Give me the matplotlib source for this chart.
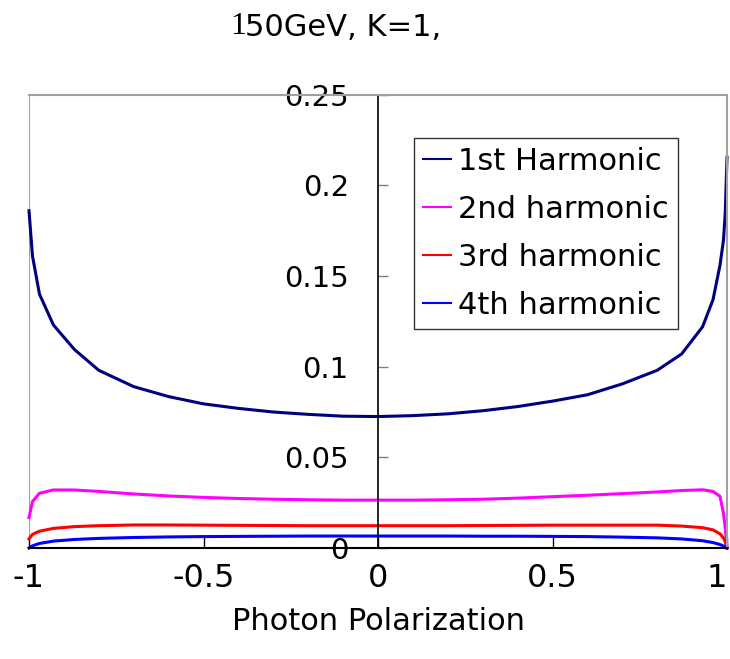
import matplotlib
matplotlib.use('Agg')
import matplotlib.pyplot as plt
from matplotlib.ticker import FixedLocator, FixedFormatter

plt.rcParams['font.family'] = 'DejaVu Sans'
plt.rcParams['axes.unicode_minus'] = False

# photon polarization values
pol = [-1, -0.99, -0.97, -0.93, -0.87, -0.8, -0.7, -0.6, -0.5, -0.4, -0.3, -0.2, -0.1, 0,
       0.1, 0.2, 0.3, 0.4, 0.5, 0.6, 0.7, 0.8, 0.87, 0.93, 0.96, 0.98, 0.99, 0.995, 1]

harm1 = [0.186, 0.161, 0.140, 0.123, 0.1095, 0.098, 0.089, 0.0835, 0.0795, 0.077, 0.075, 0.0737, 0.0727, 0.0725,
         0.073, 0.074, 0.0757, 0.078, 0.081, 0.0845, 0.0905, 0.098, 0.107, 0.122, 0.137, 0.156, 0.170, 0.185, 0.2155]
harm2 = [0.0168, 0.0256, 0.0302, 0.032, 0.032, 0.0312, 0.0298, 0.0287, 0.0279, 0.0273, 0.0269, 0.0266, 0.0264, 0.0264,
         0.0264, 0.0266, 0.0269, 0.0275, 0.0283, 0.0291, 0.0300, 0.0309, 0.0317, 0.0321, 0.0312, 0.0285, 0.019, 0.011, 0.0]
harm3 = [0.005, 0.0075, 0.0093, 0.0108, 0.0118, 0.0123, 0.0127, 0.0127, 0.0126, 0.0125, 0.0124, 0.0123, 0.0123, 0.0123,
         0.0123, 0.0123, 0.0124, 0.0125, 0.0126, 0.0126, 0.0126, 0.0126, 0.0121, 0.0112, 0.0100, 0.0078, 0.0055, 0.0035, 0.0]
harm4 = [0.0, 0.0012, 0.0025, 0.0038, 0.0047, 0.0053, 0.0058, 0.0061, 0.0063, 0.0064, 0.0065, 0.0066, 0.0066, 0.0066,
         0.0066, 0.0066, 0.0065, 0.0065, 0.0064, 0.0063, 0.0060, 0.0056, 0.0050, 0.0040, 0.0030, 0.0019, 0.0011, 0.0006, 0.0]

labels = ['1st Harmonic', '2nd harmonic', '3rd harmonic', '4th harmonic']
colors = ['#000080', '#FF00FF', '#FF0000', '#0000FF']

xticks = [-1, -0.5, 0, 0.5, 1]
xticklabels = ['-1', '-0.5', '0', '0.5', '1']
yticks = [0, 0.05, 0.1, 0.15, 0.2, 0.25]
yticklabels = ['0', '0.05', '0.1', '0.15', '0.2', '0.25']

fig = plt.figure(figsize=(7.3, 6.59), dpi=100)
ax = fig.add_axes([29/730, 1 - 548/659, 698/730, 453.3/659])

for y, lab, c in zip([harm1, harm2, harm3, harm4], labels, colors):
    ax.plot(pol, y, color=c, lw=2.2, label=lab, clip_on=False)

ax.set_xlim(-1, 1)
ax.set_ylim(0, 0.25)

# frame: gray box, black axes through zero
ax.spines['left'].set_position(('data', 0))
ax.spines['left'].set_color('black')
ax.spines['left'].set_linewidth(1.2)
ax.spines['bottom'].set_color('black')
ax.spines['bottom'].set_linewidth(1.5)
for s in ['top', 'right']:
    ax.spines[s].set_color('#a0a0a0')
    ax.spines[s].set_linewidth(1.5)
ax.axvline(-1, color='#a0a0a0', lw=1.5, zorder=0)

ax.xaxis.set_major_locator(FixedLocator(xticks))
ax.xaxis.set_major_formatter(FixedFormatter(xticklabels))
ax.yaxis.set_major_locator(FixedLocator(yticks))
ax.yaxis.set_major_formatter(FixedFormatter(yticklabels))
ax.tick_params(axis='x', direction='in', length=8, width=1, color='black', pad=11, labelsize=23)
ax.tick_params(axis='y', direction='in', length=7, width=1, color='#808080', pad=21, labelsize=21)
ax.get_xticklabels()[-1].set_ha('right')

ax.set_xlabel('Photon Polarization', fontsize=22, labelpad=9)

leg = ax.legend(loc='upper right', bbox_to_anchor=(0.93, 0.905), fontsize=22,
                frameon=True, fancybox=False, handlelength=0.9, handletextpad=0.25,
                labelspacing=0.62, borderpad=0.3, borderaxespad=0)
leg.get_frame().set_edgecolor('black')
leg.get_frame().set_linewidth(1)
for l in leg.get_lines():
    l.set_linewidth(1.5)

fig.text(230/730, 1 - 27/659, '1', fontsize=23, family='Liberation Serif', ha='left', va='center')
fig.text(245/730, 1 - 27/659, '50GeV, K=1,', fontsize=22, ha='left', va='center')

plt.savefig('out.png', dpi=100)
